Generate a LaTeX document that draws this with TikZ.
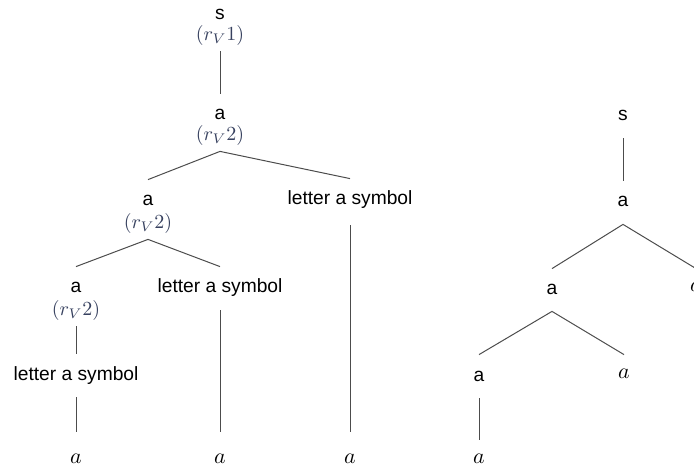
\documentclass[tikz,border=0pt]{standalone}
\usepackage{fontspec}
\newfontfamily\treefont{Liberation Sans}
\usetikzlibrary{calc}
\definecolor{rulegray}{RGB}{55,65,95}
\begin{document}
\begin{tikzpicture}[x=0.5pt,y=-0.5pt,
  sym/.style={inner sep=0pt, minimum height=18pt, text height=8.5pt, text depth=0.5pt, font=\treefont\fontsize{9.6}{11}\selectfont},
  rul/.style={sym, text=rulegray, font=\fontsize{9.6}{11}\selectfont},
  leaf/.style={sym, text height=7pt, text depth=2pt, font=\fontsize{10.5}{12}\selectfont},
  edge/.style={draw=black!70, line width=0.5pt}]
\useasboundingbox (0,0) rectangle (694,469);
\clip (0,0) rectangle (694,469);
% left tree
\node[sym] (s) at (220,12) {s};
\node[rul] (r1) at (220,33) {$(r_V1)$};
\node[sym] (a1) at (220,112) {a};
\node[rul] (r2) at (220,133) {$(r_V2)$};
\node[sym] (a2) at (148,198) {a};
\node[rul] (r3) at (148,221) {$(r_V2)$};
\node[sym] (t1) at (350,197) {letter a symbol};
\node[sym] (a3) at (76,285) {a};
\node[rul] (r4) at (76,308) {$(r_V2)$};
\node[sym] (t2) at (220,285) {letter a symbol};
\node[sym] (t3) at (76,372) {letter a symbol};
\node[leaf] (x1) at (76,458) {$a$};
\node[leaf] (x2) at (220,458) {$a$};
\node[leaf] (x3) at (350,458) {$a$};
\draw[edge] (r1.south) -- (a1.north);
\draw[edge] (a2.north) -- (r2.south) -- (t1.north);
\draw[edge] (a3.north) -- (r3.south) -- (t2.north);
\draw[edge] (r4.south) -- (t3.north);
\draw[edge, shorten <=3.5pt, shorten >=4pt] (t3.south) -- (x1.north);
\draw[edge, shorten <=3.5pt, shorten >=4pt] (t2.south) -- (x2.north);
\draw[edge, shorten <=5pt, shorten >=4pt] (t1.south) -- (x3.north);
% right tree
\node[sym] (sr) at (623,113) {s};
\node[sym] (b1) at (623,199) {a};
\node[sym] (b2) at (552,287) {a};
\node[leaf] (y0) at (696,287) {$a$};
\node[sym] (b3) at (479,373) {a};
\node[leaf] (y1) at (624,373) {$a$};
\node[leaf] (y2) at (479,458) {$a$};
\coordinate (j1) at ([yshift=-3.5pt]b1.south);
\coordinate (j2) at ([yshift=-3pt]b2.south);
\draw[edge, shorten <=3.5pt] (sr.south) -- (b1.north);
\draw[edge] (b2.north) -- (j1) -- (y0.north);
\draw[edge] (b3.north) -- (j2) -- (y1.north);
\draw[edge, shorten <=3.5pt] (b3.south) -- (y2.north);
\end{tikzpicture}
\end{document}
